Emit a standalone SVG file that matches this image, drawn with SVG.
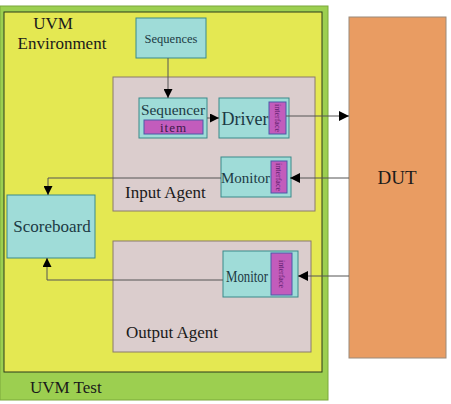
<svg xmlns="http://www.w3.org/2000/svg" width="451" height="404" viewBox="0 0 451 404">
<defs>
<style>
text{font-family:"Liberation Serif","Times New Roman",serif;}
.box{fill:#9fdcd8;stroke:#3a8a8a;stroke-width:1;}
.agent{fill:#dbcdcd;stroke:#8a7a6a;stroke-width:1;}
.ifc{fill:#c25cbc;stroke:#4a5aa8;stroke-width:1;}
.lbl{fill:#1c3a44;}
.dark{fill:#1a1a1a;}
.ifct{font-size:8px;fill:#5a1a6a;}
.conn{fill:none;stroke:#555;stroke-width:1;}
</style>
<marker id="ah" viewBox="0 0 10 10" refX="10" refY="5" markerWidth="9" markerHeight="9" orient="auto" markerUnits="userSpaceOnUse">
<path d="M0,0 L10,5 L0,10 z" fill="#000"/>
</marker>
<marker id="ahBig" viewBox="0 0 10 10" refX="10" refY="5" markerWidth="10" markerHeight="16" orient="auto" markerUnits="userSpaceOnUse">
<path d="M0,0 L10,5 L0,10 z" fill="#000"/>
</marker>
</defs>
<rect x="0" y="0" width="451" height="404" fill="#ffffff"/>
<g id="uvm-test">
<rect x="0" y="6" width="328" height="394" fill="#9ccf50" stroke="#7aa83a"/>
<text class="dark" x="30" y="393" font-size="17">UVM Test</text>
</g>
<g id="uvm-environment">
<rect x="4" y="12" width="318" height="360" fill="#e4e852" stroke="#2a3a1a"/>
<text class="dark" x="53" y="29" font-size="17" text-anchor="middle">UVM</text>
<text class="dark" x="62" y="49" font-size="17" text-anchor="middle">Environment</text>
</g>
<g id="dut">
<rect x="349" y="17" width="97" height="341" fill="#e99c62" stroke="#9a8a7a"/>
<text class="dark" x="397" y="184" font-size="19" text-anchor="middle">DUT</text>
</g>
<g id="input-agent">
<rect class="agent" x="113" y="77" width="202" height="134"/>
<text class="dark" x="125" y="198" font-size="17">Input Agent</text>
</g>
<g id="output-agent">
<rect class="agent" x="113" y="241" width="198" height="111"/>
<text class="dark" x="126" y="338" font-size="17">Output Agent</text>
</g>
<g id="sequences">
<rect class="box" x="136" y="18" width="70" height="40"/>
<text class="lbl" x="171" y="43" font-size="12.5" text-anchor="middle">Sequences</text>
</g>
<g id="sequencer">
<rect class="box" x="139" y="98" width="68" height="40"/>
<text class="lbl" x="173" y="115" font-size="15" text-anchor="middle" textLength="64" lengthAdjust="spacingAndGlyphs">Sequencer</text>
<rect class="ifc" x="144" y="120" width="59" height="14"/>
<text x="173.5" y="131.5" font-size="13" text-anchor="middle" fill="#3a1a4a" letter-spacing="1">item</text>
</g>
<g id="driver">
<rect class="box" x="219" y="98" width="70" height="40"/>
<text class="lbl" x="245" y="125" font-size="18" text-anchor="middle">Driver</text>
<rect class="ifc" x="269" y="102" width="17" height="32"/>
<text class="ifct" transform="translate(274.5,118) rotate(90)" text-anchor="middle">interface</text>
</g>
<g id="input-monitor">
<rect class="box" x="221" y="157" width="70" height="40"/>
<text class="lbl" x="245.5" y="183" font-size="15" text-anchor="middle">Monitor</text>
<rect class="ifc" x="271" y="161" width="16" height="32"/>
<text class="ifct" transform="translate(276,177) rotate(90)" text-anchor="middle">interface</text>
</g>
<g id="output-monitor">
<rect class="box" x="223" y="251" width="75" height="46"/>
<text class="lbl" x="247" y="282" font-size="16" text-anchor="middle" textLength="42" lengthAdjust="spacingAndGlyphs">Monitor</text>
<rect class="ifc" x="271" y="253" width="21" height="42"/>
<text class="ifct" transform="translate(278.5,274) rotate(90)" text-anchor="middle">interface</text>
</g>
<g id="scoreboard">
<rect class="box" x="7" y="195" width="88" height="63"/>
<text class="lbl" x="52" y="232" font-size="17" text-anchor="middle">Scoreboard</text>
</g>
<g id="connectors">
<path class="conn" d="M168,58 L168,98" stroke="#111" marker-end="url(#ah)"/>
<path class="conn" d="M207,118 L219,118" marker-end="url(#ah)"/>
<path class="conn" d="M286,116 L349,116" marker-end="url(#ahBig)"/>
<path class="conn" d="M349,178 L290,178" marker-end="url(#ahBig)"/>
<path class="conn" d="M221,178 L48,178 L48,195" marker-end="url(#ah)"/>
<path class="conn" d="M349,276 L298,276" marker-end="url(#ahBig)"/>
<path class="conn" d="M223,280 L47,280 L47,258" marker-end="url(#ah)"/>
</g>
</svg>
